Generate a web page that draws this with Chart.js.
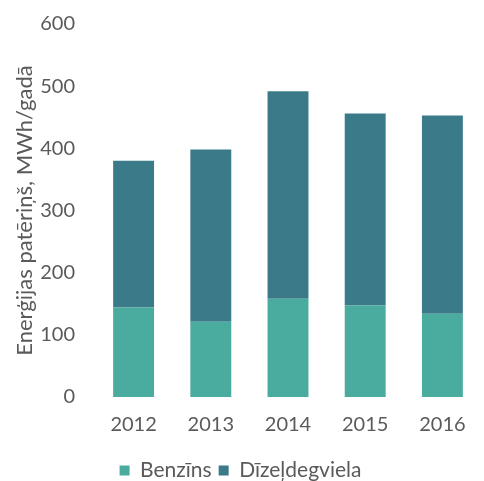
<!DOCTYPE html>
<html>
<head>
<meta charset="utf-8">
<script src="https://cdn.jsdelivr.net/npm/chart.js@4"></script>
<style>
  html, body { margin: 0; padding: 0; background: #fff; }
  #wrap { width: 484px; height: 481px; }
</style>
</head>
<body>
<div id="wrap"><canvas id="myChart" width="484" height="481"></canvas></div>
<script>
// --- Data ---
const years = ['2012', '2013', '2014', '2015', '2016'];
const benzins = [144, 121, 158, 147, 134];
const dizeldegviela = [236, 277, 334, 309, 319];
const yTicks = [0, 100, 200, 300, 400, 500, 600];

const benzColor = '#4aab9f';
const dieselColor = '#3b7b89';
const textColor = '#5a5a5a';
const fontFamily = 'Lato, "DejaVu Sans", sans-serif';

const ctx = document.getElementById('myChart').getContext('2d');
new Chart(ctx, {
    type: 'bar',
    data: {
        labels: years,
        datasets: [
            { label: 'Benzīns', data: benzins, backgroundColor: benzColor, barPercentage: 0.53, categoryPercentage: 1 },
            { label: 'Dīzeļdegviela', data: dizeldegviela, backgroundColor: dieselColor, barPercentage: 0.53, categoryPercentage: 1 }
        ]
    },
    options: {
        responsive: false,
        animation: false,
        layout: { padding: { top: 24, right: 3, bottom: -10, left: 0 } },
        plugins: {
            legend: {
                position: 'bottom',
                labels: {
                    color: textColor,
                    font: { family: fontFamily, size: 21 },
                    boxWidth: 10,
                    boxHeight: 10,
                    padding: 7
                }
            },
            tooltip: { enabled: false }
        },
        scales: {
            x: {
                stacked: true,
                grid: { display: false, drawTicks: false },
                border: { display: false },
                ticks: { color: textColor, font: { family: fontFamily, size: 20 }, padding: 16 }
            },
            y: {
                stacked: true,
                min: 0,
                max: 600,
                afterFit: (scale) => {
                    scale.width = 95;
                    // keep the tick gap from pushing the plot area inwards
                    scale.paddingTop = 12;
                    scale.paddingBottom = 12;
                },
                afterBuildTicks: (scale) => { scale.ticks = yTicks.map(v => ({ value: v })); },
                grid: { display: false, drawTicks: false },
                border: { display: false },
                ticks: { color: textColor, font: { family: fontFamily, size: 20 }, padding: 20 },
                title: {
                    display: true,
                    text: 'Enerģijas patēriņš, MWh/gadā',
                    color: textColor,
                    font: { family: fontFamily, size: 22 },
                    padding: { top: 12, bottom: 0 }
                }
            }
        }
    }
});
</script>
</body>
</html>
